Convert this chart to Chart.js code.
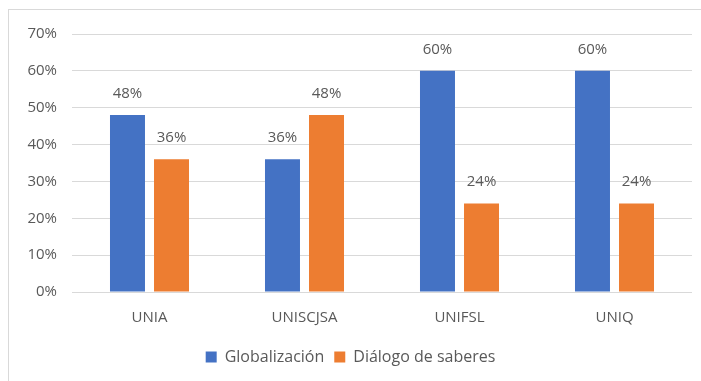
<!DOCTYPE html>
<html><head><meta charset="utf-8">
<script src="https://cdn.jsdelivr.net/npm/chart.js@4"></script>
<style>
html,body{margin:0;padding:0;background:#fff;overflow:hidden;width:701px;height:381px;}
#frame{position:absolute;left:8px;top:9px;width:800px;height:400px;border:1px solid #d9d9d9;box-sizing:border-box;}
#wrap{position:absolute;left:9px;top:10px;width:692px;height:371px;}
</style></head><body>
<div id="frame"></div>
<div id="wrap"><canvas id="c"></canvas></div>
<script>
const categories = ["UNIA", "UNISCJSA", "UNIFSL", "UNIQ"];
const globalizacion = [48, 36, 60, 60];
const dialogo = [36, 48, 24, 24];
const seriesNames = ["Globalización", "Diálogo de saberes"];
const yTicks = [0, 10, 20, 30, 40, 50, 60, 70];

const FONT = "'Open Sans', sans-serif";
const TXT = "#595959";

const labelPlugin = {
  id: 'valLabels',
  afterDatasetsDraw(chart) {
    const ctx = chart.ctx;
    ctx.save();
    ctx.font = "15px " + FONT;
    ctx.fillStyle = TXT;
    ctx.textAlign = 'center';
    ctx.textBaseline = 'bottom';
    chart.data.datasets.forEach((ds, i) => {
      chart.getDatasetMeta(i).data.forEach((bar, j) => {
        ctx.fillText(ds.data[j] + '%', bar.x, bar.y - 14);
      });
    });
    ctx.restore();
  }
};

new Chart(document.getElementById('c'), {
  type: 'bar',
  data: {
    labels: categories,
    datasets: [
      {label: seriesNames[0], data: globalizacion, backgroundColor: '#4472C4', categoryPercentage: 0.568, barPercentage: 0.795},
      {label: seriesNames[1], data: dialogo, backgroundColor: '#ED7D31', categoryPercentage: 0.568, barPercentage: 0.795}
    ]
  },
  options: {
    responsive: true,
    maintainAspectRatio: false,
    animation: false,
    layout: {padding: {left: 0, right: 9, top: 22, bottom: 6}},
    plugins: {
      legend: {
        position: 'bottom',
        labels: {font: {family: FONT, size: 16}, color: TXT, boxWidth: 11, boxHeight: 11, padding: 10}
      },
      tooltip: {enabled: false}
    },
    scales: {
      x: {
        grid: {display: false},
        border: {display: false},
        ticks: {font: {family: FONT, size: 15}, color: TXT, padding: 9},
        afterFit(s) { s.height = 47; }
      },
      y: {
        min: 0, max: 70,
        afterBuildTicks(s) { s.ticks = yTicks.map(v => ({value: v})); },
        grid: {color: '#d9d9d9', drawTicks: false, lineWidth: 1},
        border: {display: false},
        ticks: {font: {family: FONT, size: 15}, color: TXT, padding: 15, callback: v => v + '%'},
        afterFit(s) { s.width = 63; }
      }
    }
  },
  plugins: [labelPlugin]
});
</script>
</body></html>
